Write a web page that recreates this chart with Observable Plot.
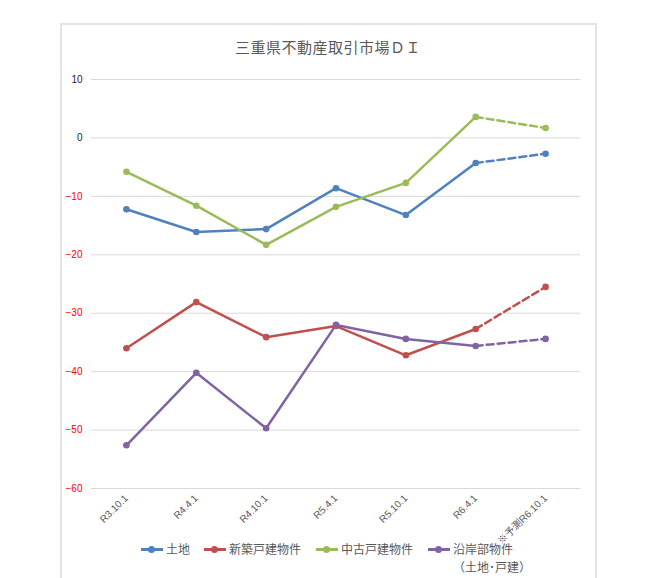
<!DOCTYPE html>
<html>
<head>
<meta charset="utf-8">
<script src="https://cdn.jsdelivr.net/npm/d3@7"></script>
<script src="https://cdn.jsdelivr.net/npm/@observablehq/plot@0.6"></script>
<style>
  html, body { margin: 0; padding: 0; background: #fff; width: 646px; height: 578px; overflow: hidden; }
  #frame { position: absolute; left: 60px; top: 23px; width: 533px; height: 570px; border: 2px solid #e3e3e3; border-bottom: none; }
  #title { position: absolute; left: 0; top: 36px; width: 656px; text-align: center; font-family: "Noto Sans CJK JP", sans-serif; font-size: 15px; color: #595959; letter-spacing: 0.5px; }
  #chart { position: absolute; left: 60px; top: 60px; }
  #chart svg { overflow: visible; }
  .lg { position: absolute; top: 540px; font-family: "Noto Sans CJK JP", sans-serif; font-size: 12px; color: #595959; display: flex; align-items: flex-start; line-height: 18px; }
  .lg .ic { position: relative; width: 22px; height: 18px; margin-right: 3px; }
  .lg .ic .ln { position: absolute; left: 0; top: 8px; width: 22px; height: 3px; }
  .lg .ic .dt { position: absolute; left: 7px; top: 6px; width: 7px; height: 7px; border-radius: 50%; }
</style>
</head>
<body>
<div id="frame"></div>
<div id="title">三重県不動産取引市場ＤＩ</div>
<div id="chart"></div>
<div id="legend"></div>
<script>
const categories = ["R3.10.1", "R4.4.1", "R4.10.1", "R5.4.1", "R5.10.1", "R6.4.1", "※予測R6.10.1"];
const seriesNames = ["土地", "新築戸建物件", "中古戸建物件", "沿岸部物件"];
const seriesLegendLabels = ["土地", "新築戸建物件", "中古戸建物件", "沿岸部物件<br>（土地･戸建）"];
const seriesColors = ["#4f81bd", "#c0504d", "#9bbb59", "#8064a2"];
const land = [-12.2, -16.1, -15.6, -8.6, -13.2, -4.3, -2.7];
const newHouse = [-36.0, -28.1, -34.1, -32.2, -37.2, -32.7, -25.5];
const usedHouse = [-5.8, -11.6, -18.3, -11.8, -7.7, 3.6, 1.7];
const coastal = [-52.6, -40.2, -49.7, -32.0, -34.4, -35.6, -34.4];
const yTicks = [10, 0, -10, -20, -30, -40, -50, -60];
const forecastStart = 5; // index of last actual value

const allValues = [land, newHouse, usedHouse, coastal];
const data = [];
allValues.forEach((vals, s) => {
  vals.forEach((v, i) => data.push({series: seriesNames[s], cat: categories[i], i, value: v}));
});
const solid = data.filter(d => d.i <= forecastStart);
const dashed = data.filter(d => d.i >= forecastStart);

const chart = Plot.plot({
  width: 535,
  height: 480,
  marginLeft: 31,
  marginRight: 15,
  marginTop: 19,
  marginBottom: 52,
  style: {background: "transparent", fontFamily: "'Liberation Sans', 'Noto Sans CJK JP', sans-serif", overflow: "visible"},
  x: {type: "point", domain: categories, padding: 0.5, round: false},
  y: {domain: [-60, 10]},
  color: {domain: seriesNames, range: seriesColors},
  marks: [
    Plot.gridY(yTicks, {stroke: "#d9d9d9", strokeOpacity: 1, strokeWidth: 1}),
    Plot.axisY(yTicks, {tickSize: 0, tickPadding: 9, fontSize: 10, label: null,
      fill: d => d < 0 ? "#ff0000" : "#1a1a3a"}),
    Plot.axisX({tickSize: 0, tickRotate: -45, tickPadding: 8, fontSize: 10, label: null, fill: "#595959"}),
    Plot.line(solid, {x: "cat", y: "value", z: "series", stroke: "series", strokeWidth: 2.5}),
    Plot.line(dashed, {x: "cat", y: "value", z: "series", stroke: "series", strokeWidth: 2.5, strokeDasharray: "7,4"}),
    Plot.dot(data, {x: "cat", y: "value", fill: "series", r: 3.3})
  ]
});
document.getElementById("chart").appendChild(chart);

const legendX = [141, 204, 316, 428];
const legend = document.getElementById("legend");
seriesNames.forEach((name, k) => {
  const item = document.createElement("div");
  item.className = "lg";
  item.style.left = legendX[k] + "px";
  item.innerHTML = `<div class="ic"><div class="ln" style="background:${seriesColors[k]}"></div><div class="dt" style="background:${seriesColors[k]}"></div></div><div>${seriesLegendLabels[k]}</div>`;
  legend.appendChild(item);
});
</script>
</body>
</html>
